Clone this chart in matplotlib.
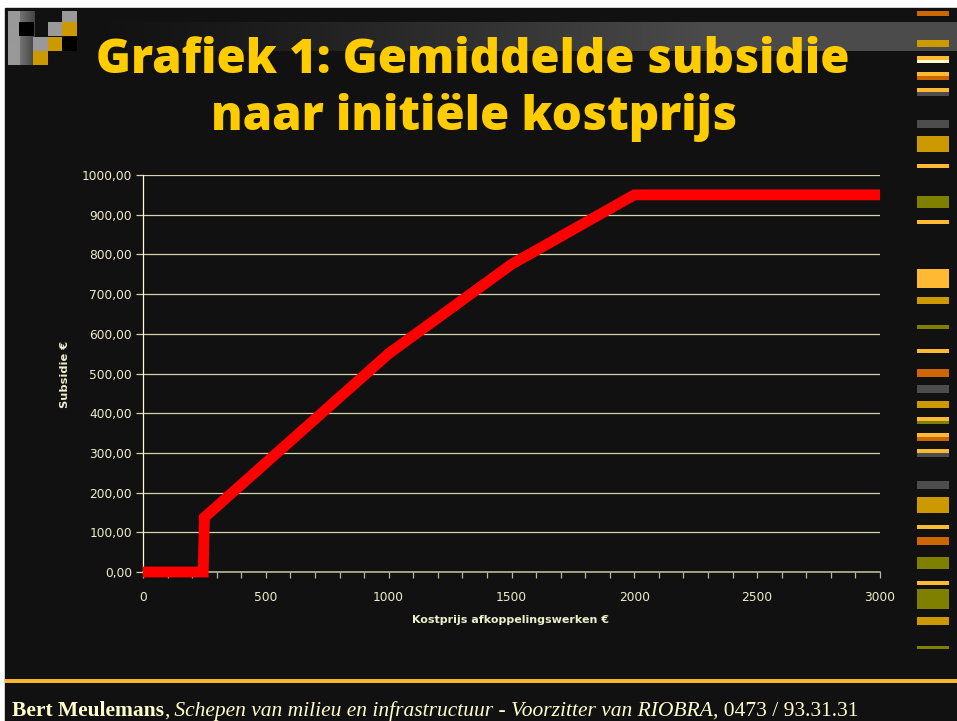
import matplotlib.pyplot as plt
from matplotlib.patches import Rectangle
from matplotlib.ticker import MultipleLocator, FuncFormatter
import numpy as np

# data
kostprijs = [0, 245, 250, 1000, 1500, 2000, 3000]
subsidie = [0, 0, 137.5, 550, 775, 950, 950]

titel1 = 'Grafiek 1: Gemiddelde subsidie'
titel2 = 'naar initiële kostprijs'
xlabel = 'Kostprijs afkoppelingswerken €'
ylabel = 'Subsidie €'

W, H = 957, 721
BG = '#111111'
CREAM = '#EEEECC'


def px(x, y):
    # pixel (from top-left) -> figure fraction
    return x / W, 1 - y / H


fig = plt.figure(figsize=(W / 100, H / 100), dpi=100, facecolor='white')

# slide background / decoration
bg = fig.add_axes([0, 0, 1, 1])
bg.axis('off')
bg.add_patch(Rectangle((5, 8), W - 5, H - 8, color=BG, zorder=-5))

g = np.clip((np.arange(80, W) - 80) / 620.0, 0, 1) ** 1.3
c0, c1 = 0x11 / 255, 0x4b / 255
band = np.zeros((1, len(g), 3))
for k in range(3):
    band[0, :, k] = c0 + (c1 - c0) * g
bg.imshow(band, extent=(80, W, 51, 22), aspect='auto', interpolation='bilinear', zorder=0)

# little squares top-left
lg = np.linspace(0.6, 0.27, 27)
grad2 = np.zeros((1, 27, 3))
for k in range(3):
    grad2[0, :, k] = np.where(np.arange(27) < 12, 0.6, lg)
bg.imshow(grad2, extent=(8, 35, 65, 11), aspect='auto', interpolation='bilinear', zorder=0)
squares = [(62, 11, '#999999'), (19, 22, '#000000'), (48, 22, '#999999'),
           (62, 22, '#CC9900'), (33, 37, '#999999'), (48, 37, '#CC9900'),
           (62, 37, '#000000'), (33, 51, '#CC9900')]
for sx, sy, c in squares:
    bg.add_patch(Rectangle((sx, sy), 15, 14, color=c, lw=0))

# strip on the right
strip = [(11, 16, '#CC6600'), (40, 47, '#CC9900'), (56, 60, '#FFB933'), (60, 63, '#FFFACD'),
         (72, 76, '#FFB933'), (76, 80, '#CC6600'), (88, 92, '#FFB933'), (92, 96, '#4D4D4D'),
         (120, 128, '#4D4D4D'), (136, 152, '#CC9900'), (164, 168, '#FFB933'),
         (196, 208, '#808000'), (220, 224, '#FFB933'), (269, 288, '#FFB933'),
         (297, 304, '#CC9900'), (325, 329, '#808000'), (349, 353, '#FFB933'),
         (369, 377, '#CC6600'), (385, 393, '#4D4D4D'), (401, 408, '#CC9900'),
         (417, 421, '#FFB933'), (421, 424, '#808000'), (433, 437, '#FFB933'),
         (437, 441, '#CC6600'), (449, 453, '#FFB933'), (453, 457, '#4D4D4D'),
         (481, 489, '#4D4D4D'), (497, 513, '#CC9900'), (525, 529, '#FFB933'),
         (537, 545, '#CC6600'), (557, 569, '#808000'), (581, 585, '#FFB933'),
         (589, 609, '#808000'), (617, 625, '#CC9900'), (646, 649, '#808000')]
for y0, y1, c in strip:
    bg.add_patch(Rectangle((917, y0), 32, y1 - y0, color=c, lw=0))

# footer line
bg.add_patch(Rectangle((5, 679), W - 5, 4, color='#F9B52C', lw=0))
bg.set_xlim(0, W)
bg.set_ylim(H, 0)

# the chart
ax = fig.add_axes([143 / W, 1 - 572 / H, 737 / W, 397 / H])
ax.set_facecolor('none')
ax.plot(kostprijs, subsidie, color='#FF0000', lw=7.8, solid_joinstyle='miter',
        solid_capstyle='butt', clip_on=False, zorder=3)
ax.set_xlim(0, 3000)
ax.set_ylim(0, 1000)

ax.yaxis.set_major_locator(MultipleLocator(100))
ax.yaxis.set_major_formatter(FuncFormatter(lambda v, p: f'{v:.2f}'.replace('.', ',')))
ax.xaxis.set_major_locator(MultipleLocator(500))
ax.xaxis.set_minor_locator(MultipleLocator(100))
ax.grid(axis='y', color='#D4D4B0', lw=0.9)
ax.set_axisbelow(True)

for s in ['top', 'right']:
    ax.spines[s].set_visible(False)
ax.spines['left'].set_color('#FFFFCC')
ax.spines['left'].set_linewidth(0.9)
ax.spines['bottom'].set_color('#B8B89C')
ax.spines['bottom'].set_linewidth(1.2)

ax.tick_params(axis='y', direction='out', length=5, width=0.9, color='#D4D4B0',
               labelcolor=CREAM, labelsize=8.8, pad=3)
ax.tick_params(axis='x', which='both', direction='out', length=4, width=0.9,
               color='#B8B89C', labelcolor=CREAM, labelsize=8.8, pad=10)

fig.text(*px(65, 374), ylabel, rotation=90, ha='center', va='center',
         fontsize=8.2, weight='bold', color=CREAM)
fig.text(*px(511, 620), xlabel, ha='center', va='center',
         fontsize=8, weight='bold', color=CREAM)

# title
fig.text(*px(473, 73), titel1, ha='center', va='baseline', fontsize=34,
         family='Open Sans', weight=800, color='#FFCC00')
fig.text(*px(474, 130), titel2, ha='center', va='baseline', fontsize=34,
         family='Open Sans', weight=800, color='#FFCC00')

# footer, several styles on one line
fy = 1 - 716 / H
fs = 15.5
t = fig.text(12 / W, fy, 'Bert Meulemans', family='Liberation Serif', weight='bold',
             fontsize=fs, color='#FFFFCC', va='baseline')
for txt, style in [(',', 'normal'),
                   (' Schepen van milieu en infrastructuur - Voorzitter van RIOBRA', 'italic'),
                   (', 0473 / 93.31.31', 'normal')]:
    t = bg.annotate(txt, xy=(1, fy), xycoords=(t, 'figure fraction'), va='baseline',
                    ha='left', family='Liberation Serif', style=style, fontsize=fs,
                    color='#FFFFCC', annotation_clip=False)

fig.savefig('out.png', dpi=100, facecolor=fig.get_facecolor())
